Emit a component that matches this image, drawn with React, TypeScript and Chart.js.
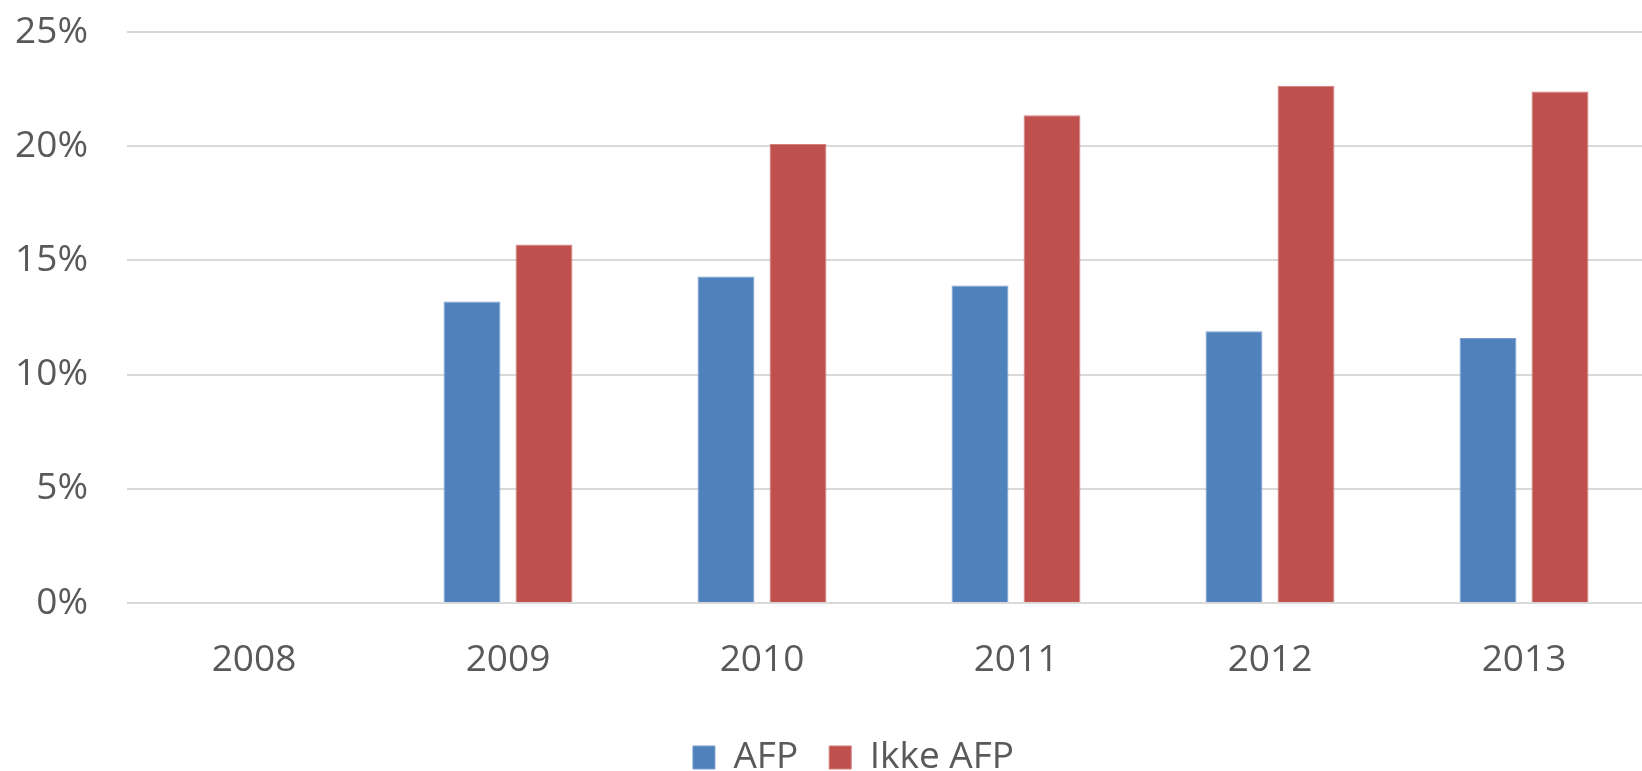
import React, { useEffect, useRef } from "react";
import { Chart, registerables } from "chart.js";

Chart.register(...registerables);

const categories = ["2008", "2009", "2010", "2011", "2012", "2013"];
const afpValues: (number | null)[] = [null, 13.2, 14.3, 13.9, 11.9, 11.6];
const ikkeAfpValues: (number | null)[] = [null, 15.7, 20.1, 21.35, 22.65, 22.4];
const seriesNames = ["AFP", "Ikke AFP"];
const yTicks = [0, 5, 10, 15, 20, 25];

const FONT = "'Open Sans', 'DejaVu Sans', sans-serif";
const TEXT = "#595959";

const legendShift = {
  id: "legendShift",
  afterLayout(chart: any) {
    const lg = chart.legend;
    if (lg) {
      lg.left += 28;
      lg.right += 28;
    }
  },
};

export default function App() {
  const ref = useRef<HTMLCanvasElement | null>(null);

  useEffect(() => {
    if (!ref.current) return;
    const chart = new Chart(ref.current, {
      type: "bar",
      data: {
        labels: categories,
        datasets: [
          {
            label: seriesNames[0],
            data: afpValues,
            backgroundColor: "#4F81BD",
            borderColor: "#7A9FCE",
            borderWidth: 1,
            categoryPercentage: 0.567,
            barPercentage: 0.79,
          },
          {
            label: seriesNames[1],
            data: ikkeAfpValues,
            backgroundColor: "#C0504D",
            borderColor: "#D27E7C",
            borderWidth: 1,
            categoryPercentage: 0.567,
            barPercentage: 0.79,
          },
        ],
      },
      plugins: [legendShift],
      options: {
        responsive: false,
        animation: false,
        layout: { padding: { top: 32, right: 104, left: 0, bottom: 0 } },
        plugins: {
          tooltip: { enabled: false },
          legend: {
            position: "bottom",
            labels: {
              boxWidth: 22,
              boxHeight: 23,
              padding: 31,
              color: TEXT,
              font: { family: FONT, size: 37 },
            },
          },
        },
        scales: {
          x: {
            grid: { display: false, drawTicks: false },
            border: { display: false },
            ticks: {
              color: TEXT,
              font: { family: FONT, size: 37 },
              padding: 35,
              maxRotation: 0,
            },
            afterFit: (scale: any) => {
              scale.height = 105;
            },
          },
          y: {
            min: 0,
            max: 25,
            afterBuildTicks: (scale: any) => {
              scale.ticks = yTicks.map((v) => ({ value: v }));
            },
            grid: { color: "#D9D9D9", lineWidth: 2, drawTicks: false },
            border: { display: false },
            ticks: {
              color: TEXT,
              font: { family: FONT, size: 37 },
              padding: 39,
              callback: (v: any) => v + "%",
            },
            afterFit: (scale: any) => {
              scale.width = 127;
              scale.paddingTop = 0;
              scale.paddingBottom = 0;
            },
          },
        },
      },
    });
    return () => chart.destroy();
  }, []);

  return (
    <div
      style={{
        position: "absolute",
        left: 0,
        top: 0,
        width: 1642,
        height: 771,
        overflow: "hidden",
        background: "#fff",
      }}
    >
      <canvas ref={ref} width={1755} height={786} style={{ display: "block" }} />
    </div>
  );
}
